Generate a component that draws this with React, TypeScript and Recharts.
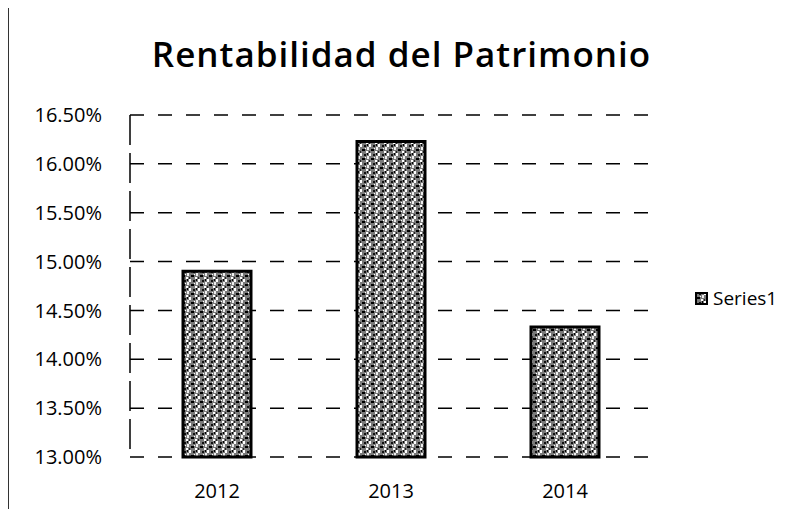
import React from "react";
import {
  BarChart,
  Bar,
  XAxis,
  YAxis,
  CartesianGrid,
} from "recharts";

const years = ["2012", "2013", "2014"];
const roe = [14.9, 16.23, 14.33];
const yTicks = [13, 13.5, 14, 14.5, 15, 15.5, 16, 16.5];
const seriesName = "Series1";

const data = years.map((year, i) => ({ year, value: roe[i] }));

const font = "'Open Sans', 'Liberation Sans', sans-serif";

const LegendBox = () => (
  <div
    style={{
      position: "absolute",
      left: 695,
      top: 285,
      display: "flex",
      alignItems: "center",
      fontFamily: font,
      fontSize: 19,
      color: "#000",
    }}
  >
    <svg width={13} height={13} style={{ marginRight: 5 }}>
      <rect x={1} y={1} width={11} height={11} fill="url(#tex)" stroke="#000" strokeWidth={2} />
    </svg>
    {seriesName}
  </div>
);

export default function App() {
  return (
    <div
      style={{
        position: "relative",
        width: 799,
        height: 517,
        margin: -8,
        background: "#fff",
        overflow: "hidden",
      }}
    >
      <svg width={0} height={0} style={{ position: "absolute" }}>
        <defs>
          <pattern id="tex" width={9} height={9} patternUnits="userSpaceOnUse">
            <rect width={9} height={9} fill="#7a7a7a" />
            <rect x={0} y={0} width={2} height={3} fill="#fff" />
            <rect x={4} y={1} width={2} height={2} fill="#111" />
            <rect x={7} y={3} width={2} height={3} fill="#eee" />
            <rect x={2} y={5} width={3} height={2} fill="#000" />
            <rect x={6} y={7} width={2} height={2} fill="#fff" />
            <rect x={0} y={7} width={1} height={2} fill="#222" />
            <rect x={5} y={4} width={1} height={1} fill="#fff" />
            <rect x={7} y={0} width={1} height={2} fill="#000" />
          </pattern>
        </defs>
      </svg>
      <div
        style={{
          position: "absolute",
          left: 7,
          top: 0,
          width: 1.5,
          height: 517,
          background: "#333",
        }}
      />
      <div
        style={{
          position: "absolute",
          left: 0,
          top: 30,
          width: 799,
          textAlign: "center",
          fontFamily: font,
          fontWeight: 600,
          fontSize: 35,
          letterSpacing: 1,
          color: "#000",
          paddingLeft: 2,
        }}
      >
        Rentabilidad del Patrimonio
      </div>
      <BarChart
        width={799}
        height={517}
        data={data}
        margin={{ top: 115, right: 147, bottom: 0, left: 8 }}
      >
        <CartesianGrid
          vertical={false}
          stroke="#000"
          strokeWidth={1.5}
          strokeDasharray="14 14"
        />
        <XAxis
          dataKey="year"
          axisLine={false}
          tickLine={false}
          height={60}
          tickMargin={21}
          tick={{ fontSize: 20, fill: "#000", fontFamily: font }}
        />
        <YAxis
          domain={[13, 16.5]}
          ticks={yTicks}
          width={122}
          tickLine={false}
          axisLine={{ stroke: "#000", strokeWidth: 1.5, strokeDasharray: "30 8" }}
          tickMargin={22}
          tickFormatter={(v: number) => v.toFixed(2) + "%"}
          tick={{ fontSize: 20, fill: "#000", fontFamily: font }}
        />
        <Bar
          dataKey="value"
          name={seriesName}
          barSize={68}
          fill="url(#tex)"
          stroke="#000"
          strokeWidth={3}
          isAnimationActive={false}
        />
      </BarChart>
      <LegendBox />
    </div>
  );
}
